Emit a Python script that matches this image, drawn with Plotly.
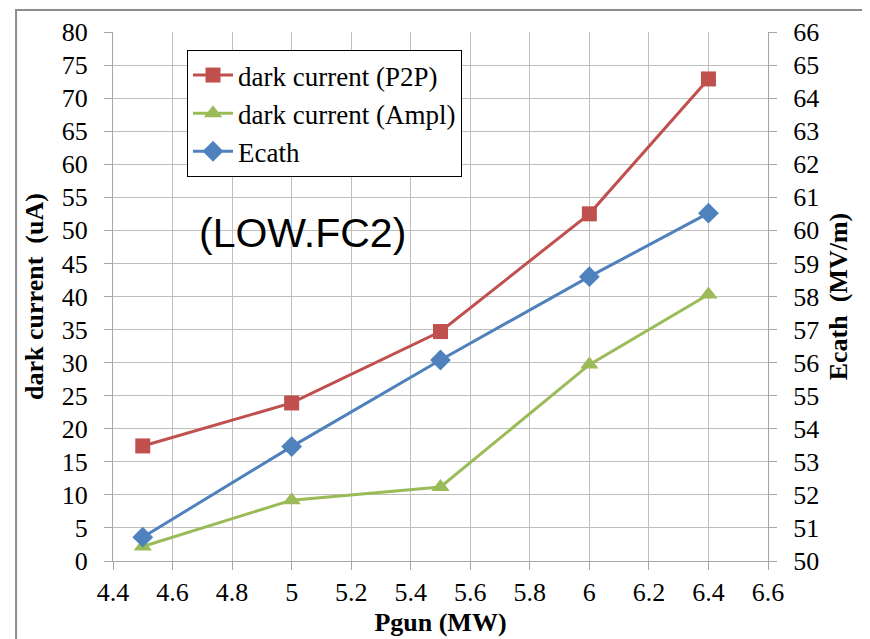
import plotly.graph_objects as go

pgun = [4.5, 5, 5.5, 6, 6.4]
dc_p2p = [17.4, 23.9, 34.7, 52.5, 72.9]
dc_ampl = [2.2, 9.2, 11.2, 29.7, 40.3]
ecath = [50.72, 53.46, 56.08, 58.6, 60.52]

RED = "#C0504D"
GREEN = "#9BBB59"
BLUE = "#4F81BD"
SERIF = "Liberation Serif"

fig = go.Figure()
fig.add_trace(go.Scatter(x=pgun, y=dc_p2p, name="dark current (P2P)", mode="lines+markers",
                         line=dict(color=RED, width=3),
                         marker=dict(symbol="square", size=15, color=RED)))
fig.add_trace(go.Scatter(x=pgun, y=dc_ampl, name="dark current (Ampl)", mode="lines+markers",
                         line=dict(color=GREEN, width=3),
                         marker=dict(symbol="triangle-up", size=16, color=GREEN)))
fig.add_trace(go.Scatter(x=pgun, y=ecath, name="Ecath", mode="lines+markers", yaxis="y2",
                         line=dict(color=BLUE, width=3),
                         marker=dict(symbol="diamond", size=16, color=BLUE)))

grid = "#BFBFBF"
axc = "#A6A6A6"
tickfont = dict(family=SERIF, size=26, color="black")
titlefont = dict(family=SERIF, size=26, color="black")
fig.update_layout(
    width=870, height=639,
    margin=dict(l=105, r=110, t=24, b=86),
    paper_bgcolor="white", plot_bgcolor="white",
    font=dict(family=SERIF, size=26, color="black"),
    showlegend=True,
    legend=dict(x=0.113, y=0.966, xanchor="left", yanchor="top",
                bordercolor="black", borderwidth=1, bgcolor="white",
                font=dict(family=SERIF, size=27, color="black"), tracegroupgap=0, itemwidth=40),
    xaxis=dict(range=[4.4, 6.6], dtick=0.2, tick0=4.4, showgrid=True, gridcolor=grid, gridwidth=1,
               ticks="outside", ticklen=8, tickcolor=axc, showline=True, linecolor=axc,
               zeroline=False, automargin=False, tickfont=tickfont,
               title=dict(text="<b>Pgun (MW)</b>", font=titlefont, standoff=6)),
    yaxis=dict(range=[0, 80], dtick=5, showgrid=True, gridcolor=grid, gridwidth=1,
               ticks="outside", ticklen=8, tickcolor=axc, showline=True, linecolor=axc,
               zeroline=False, automargin=False, tickfont=tickfont, ticklabelstandoff=11,
               title=dict(text="<b>dark current  (uA)</b>", font=titlefont, standoff=10)),
    yaxis2=dict(range=[50, 66], dtick=1, overlaying="y", side="right", showgrid=False,
                ticks="outside", ticklen=8, tickcolor=axc, showline=True, linecolor=axc,
                zeroline=False, automargin=False, tickfont=tickfont, ticklabelstandoff=11,
                title=dict(text="<b>Ecath  (MV/m)</b>", font=titlefont, standoff=10)),
    annotations=[dict(text="(LOW.FC2)", xref="paper", yref="paper", x=0.29, y=0.62,
                      xanchor="center", yanchor="middle", showarrow=False,
                      font=dict(family="Liberation Sans", size=41, color="black"))],
    shapes=[dict(type="rect", xref="paper", yref="paper", x0=-0.148, x1=1.3, y0=-0.4, y1=1.0416,
                 line=dict(color="#8C8C8C", width=2), layer="below")],
)

fig.write_html("out.html")
